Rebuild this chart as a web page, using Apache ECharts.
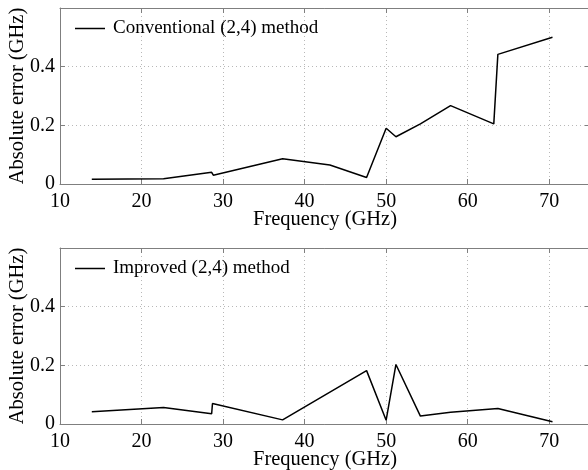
<!DOCTYPE html>
<html>
<head>
<meta charset="utf-8">
<script src="https://cdn.jsdelivr.net/npm/echarts@6/dist/echarts.min.js"></script>
<style>html,body{margin:0;padding:0;background:#fff}#c{width:588px;height:470px}</style>
</head>
<body>
<div id="c"></div>
<script>
const frequency = [13.9, 22.7, 28.6, 28.8, 37.3, 43.1, 47.6, 50.0, 51.2, 54.2, 57.9, 63.2, 63.7, 70.4];
const conventional = [0.016, 0.018, 0.040, 0.030, 0.086, 0.065, 0.022, 0.190, 0.161, 0.205, 0.267, 0.205, 0.442, 0.500];
const improvedFreq = [13.9, 22.7, 28.6, 28.7, 37.3, 47.6, 50.0, 51.2, 54.2, 57.9, 63.7, 70.4];
const improved = [0.042, 0.056, 0.035, 0.070, 0.014, 0.182, 0.013, 0.203, 0.027, 0.040, 0.053, 0.008];
const xTicks = [10, 20, 30, 40, 50, 60, 70];
const yTicks = [0, 0.2, 0.4];
const names = ['Conventional (2,4) method', 'Improved (2,4) method'];

const FONT = 'Liberation Serif';
const axisGray = '#7f7f7f';
const gridGray = '#b8b8b8';

function pairs(xs, ys) { return xs.map((x, i) => [x, ys[i]]); }

const grids = [
  { left: 60, top: 8, width: 530, height: 176, containLabel: false, outerBoundsMode: 'none' },
  { left: 60, top: 248, width: 530, height: 176, containLabel: false, outerBoundsMode: 'none' }
];

const xAxes = [], yAxes = [];
grids.forEach((g, gi) => {
  xAxes.push({
    type: 'value', gridIndex: gi, min: 10, max: 75, interval: 10,
    name: 'Frequency (GHz)', nameLocation: 'middle', nameGap: 25, nameMoveOverlap: false,
    nameTextStyle: { fontFamily: FONT, fontSize: 20.5, color: '#000' },
    axisLine: { show: true, lineStyle: { color: axisGray, width: 1 } },
    axisTick: { show: true, inside: true, length: 5, lineStyle: { color: axisGray } },
    axisLabel: { fontFamily: FONT, fontSize: 20, color: '#000', margin: 8, showMaxLabel: false,
      formatter: v => xTicks.includes(v) ? String(v) : '' },
    splitLine: { show: true, lineStyle: { color: gridGray, type: [1, 3], width: 1 } }
  });
  xAxes.push({
    type: 'value', gridIndex: gi, min: 10, max: 75, interval: 10, position: 'top',
    axisLine: { show: true, onZero: false, lineStyle: { color: axisGray, width: 1 } },
    axisTick: { show: true, inside: true, length: 5, lineStyle: { color: axisGray } },
    axisLabel: { show: false }, splitLine: { show: false }
  });
  yAxes.push({
    type: 'value', gridIndex: gi, min: 0, max: 0.6, interval: 0.2,
    name: 'Absolute error (GHz)', nameLocation: 'middle', nameGap: 32, nameMoveOverlap: false,
    nameTextStyle: { fontFamily: FONT, fontSize: 20.5, color: '#000' },
    axisLine: { show: true, lineStyle: { color: axisGray, width: 1 } },
    axisTick: { show: true, inside: true, length: 5, lineStyle: { color: axisGray } },
    axisLabel: { fontFamily: FONT, fontSize: 20, color: '#000', margin: 5, showMaxLabel: false,
      formatter: v => { const m = yTicks.find(t => Math.abs(t - v) < 1e-9); return m === undefined ? '' : (m === 0 ? '0' : m.toFixed(1)); } },
    splitLine: { show: true, lineStyle: { color: gridGray, type: [1, 3], width: 1 } }
  });
  yAxes.push({
    type: 'value', gridIndex: gi, min: 0, max: 0.6, interval: 0.2, position: 'right',
    axisLine: { show: true, onZero: false, lineStyle: { color: axisGray, width: 1 } },
    axisTick: { show: true, inside: true, length: 5, lineStyle: { color: axisGray } },
    axisLabel: { show: false }, splitLine: { show: false }
  });
});

const legendBase = { icon: 'rect', itemWidth: 30, itemHeight: 1.5, itemGap: 5, padding: 0,
  itemStyle: { color: '#000' },
  textStyle: { fontFamily: FONT, fontSize: 19, color: '#000', padding: [0, 0, 0, 3] } };

const option = {
  animation: false,
  backgroundColor: '#fff',
  grid: grids,
  xAxis: xAxes,
  yAxis: yAxes,
  legend: [
    Object.assign({ data: [names[0]], left: 75, top: 19 }, legendBase),
    Object.assign({ data: [names[1]], left: 75, top: 259 }, legendBase)
  ],
  series: [
    { name: names[0], type: 'line', xAxisIndex: 0, yAxisIndex: 0, data: pairs(frequency, conventional),
      symbol: 'none', lineStyle: { color: '#000', width: 1.5 }, itemStyle: { color: '#000' } },
    { name: names[1], type: 'line', xAxisIndex: 2, yAxisIndex: 2, data: pairs(improvedFreq, improved),
      symbol: 'none', lineStyle: { color: '#000', width: 1.5 }, itemStyle: { color: '#000' } }
  ]
};
echarts.init(document.getElementById('c'), null, { renderer: 'canvas' }).setOption(option);
</script>
</body>
</html>
